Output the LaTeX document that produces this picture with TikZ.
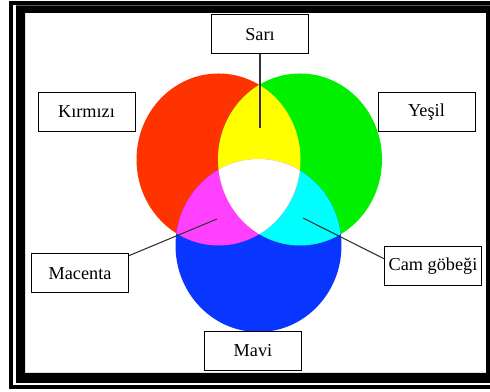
\documentclass[tikz,border=0pt]{standalone}
\usepackage{fontspec}
\setmainfont{Liberation Serif}
\usetikzlibrary{positioning}
\definecolor{Rc}{HTML}{FF3300}
\definecolor{Gc}{HTML}{00F000}
\definecolor{Bc}{HTML}{0836FF}
\definecolor{Yc}{HTML}{FFFF00}
\definecolor{Mc}{HTML}{FF40FF}
\definecolor{Cc}{HTML}{00FFFF}
\tikzset{
  tag/.style={rectangle, draw=black, line width=0.75pt, fill=white, inner sep=0pt,
    minimum width=72.75pt, minimum height=29.25pt, font=\fontsize{13.7}{15}\selectfont},
  link/.style={draw=black!80, line width=0.8pt},
}
\newcommand{\Rdisk}{(218.5,232.5) ellipse [x radius=82, y radius=86]}
\newcommand{\Gdisk}{(300,232.5) ellipse [x radius=82, y radius=86]}
\newcommand{\Bdisk}{(258.5,146.5) ellipse [x radius=83, y radius=86.5]}

\begin{document}
\begin{tikzpicture}[x=0.75pt, y=0.75pt]
  \useasboundingbox (0,0) rectangle (490,392);
  \fill[white] (0,0) rectangle (490,392);
  % frame
  \fill[black, even odd rule] (16,9) rectangle (495,386.5) (25,19) rectangle (486,379);
  \begin{scope}
    \clip (0,0) rectangle (490,392);
    \draw[line width=2.8pt] (10.85,5) rectangle (500,389.2);
  \end{scope}
  % discs
  \fill[Rc] \Rdisk;
  \fill[Gc] \Gdisk;
  \fill[Bc] \Bdisk;
  \begin{scope}
    \clip \Gdisk;
    \fill[Cc] \Bdisk;
  \end{scope}
  \begin{scope}
    \clip \Rdisk;
    \fill[Yc] \Gdisk;
    \fill[Mc] \Bdisk;
    \clip \Gdisk;
    \fill[white] \Bdisk;
  \end{scope}
  % labels
  \node[tag] (sari) at (260,357.5) {Sarı};
  \node[tag] (kirmizi) at (86.5,280) {Kırmızı};
  \node[tag] (yesil) at (426.5,280) {Yeşil};
  \node[tag] (macenta) at (80,118.5) {Macenta};
  \node[tag] (mavi) at (253,41) {Mavi};
  \node[tag] (camgobegi) at (433,125.5) {Cam göbeği};
  \coordinate (sariEnd) at (260,264);
  \coordinate (macentaEnd) at (217,173);
  \coordinate (camEnd) at (303,174);
  \draw[link] (sari.south) -- (sariEnd);
  \draw[link] (macenta.20) -- (macentaEnd);
  \draw[link] (camgobegi.171) -- (camEnd);
\end{tikzpicture}
\end{document}
